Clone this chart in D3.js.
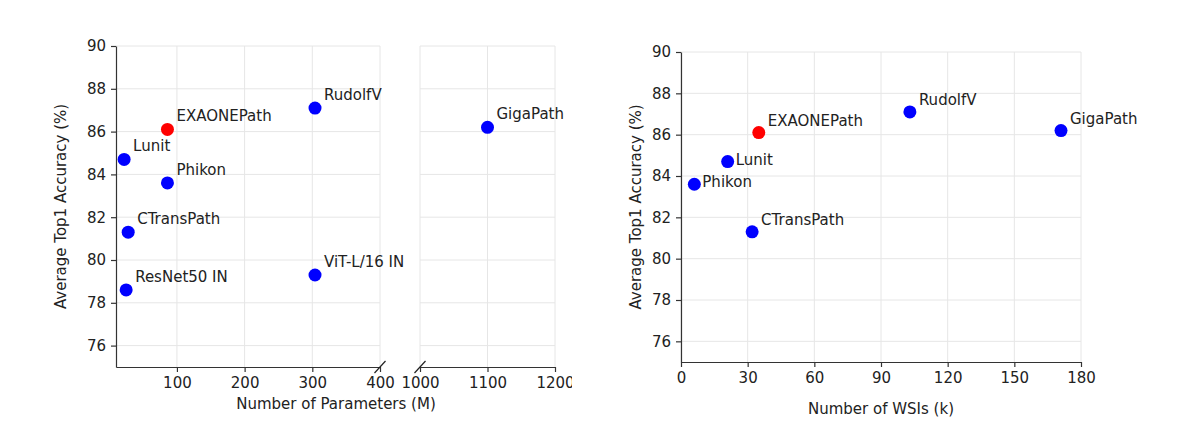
<!DOCTYPE html>
<html>
<head>
<meta charset="utf-8">
<script src="https://cdn.jsdelivr.net/npm/d3@7"></script>
<style>
    body { margin: 0; background: #fff; }
    svg { font-family: "DejaVu Sans", sans-serif; }
    .axis text { fill: #222; }
    .axis path, .axis line { stroke: #333; stroke-width: 1.2; }
    .grid line { stroke: #e6e6e6; stroke-width: 1; }
    .axis-title { font-size: 15px; fill: #222; }
    .pt-label { font-size: 15px; fill: #222; }
</style>
</head>
<body>
<div id="chart"></div>
<script>
// data
const models = ['ResNet50 IN', 'CTransPath', 'Lunit', 'Phikon', 'EXAONEPath', 'ViT-L/16 IN', 'RudolfV', 'GigaPath'];
const paramsM = [25, 28, 22, 86, 86, 304, 304, 1100];
const accuracy = [78.6, 81.3, 84.7, 83.6, 86.1, 79.3, 87.1, 86.2];
const wsisK = [null, 32, 21, 6, 35, null, 103, 171];

const yTicks = [76, 78, 80, 82, 84, 86, 88, 90];
const paramTicksLow = [100, 200, 300, 400];
const paramTicksHigh = [1000, 1100, 1200];
const wsiTicks = [0, 30, 60, 90, 120, 150, 180];

const highlight = 'EXAONEPath';

const points = models.map((m, i) => ({name: m, params: paramsM[i], acc: accuracy[i], wsi: wsisK[i]}));

const svg = d3.select('#chart').append('svg')
    .attr('width', 1200)
    .attr('height', 434);

const color = d => d.name === highlight ? '#ff0000' : '#0000ff';

// draw an axis and force the tick font (d3 sets its own 10px sans-serif)
function drawAxis(parent, axis, transform) {
    return parent.append('g')
        .attr('class', 'axis')
        .attr('transform', transform)
        .call(axis.tickSize(5).tickSizeOuter(0).tickFormat(d3.format('d')))
        .attr('font-size', 15)
        .attr('font-family', '"DejaVu Sans", sans-serif');
}

// ---------- left panel: broken x axis ----------
const left = svg.append('g');
svg.append('clipPath').attr('id', 'leftClip')
    .append('rect').attr('x', 0).attr('y', 0).attr('width', 572).attr('height', 434);
left.attr('clip-path', 'url(#leftClip)');

const yL = d3.scaleLinear().domain([75, 90]).range([367, 46]);
const xLo = d3.scaleLinear().domain([10, 400]).range([116, 380]);
const xHi = d3.scaleLinear().domain([1000, 1200]).range([420, 555]);

// grid
const gridL = left.append('g').attr('class', 'grid');
[xLo, xHi].forEach(x => {
    const ticks = x === xLo ? paramTicksLow : paramTicksHigh;
    gridL.selectAll(null).data(ticks).join('line')
        .attr('x1', d => x(d)).attr('x2', d => x(d))
        .attr('y1', yL.range()[0]).attr('y2', yL.range()[1]);
    gridL.selectAll(null).data(yTicks).join('line')
        .attr('x1', x.range()[0]).attr('x2', x.range()[1])
        .attr('y1', d => yL(d)).attr('y2', d => yL(d));
});

drawAxis(left, d3.axisLeft(yL).tickValues(yTicks).tickPadding(5), `translate(${xLo.range()[0]},0)`);
drawAxis(left, d3.axisBottom(xLo).tickValues(paramTicksLow).tickPadding(5), `translate(0,${yL.range()[0]})`);
drawAxis(left, d3.axisBottom(xHi).tickValues(paramTicksHigh).tickPadding(5), `translate(0,${yL.range()[0]})`);

// break marks
left.selectAll('.brk').data([xLo.range()[1], xHi.range()[0]]).join('line')
    .attr('class', 'brk')
    .attr('x1', d => d - 5.5).attr('y1', yL.range()[0] + 6)
    .attr('x2', d => d + 5.5).attr('y2', yL.range()[0] - 6)
    .attr('stroke', '#222').attr('stroke-width', 1.2);

const xParam = v => v >= 1000 ? xHi(v) : xLo(v);

left.selectAll('.dot').data(points).join('circle')
    .attr('class', 'dot')
    .attr('cx', d => xParam(d.params))
    .attr('cy', d => yL(d.acc))
    .attr('r', 6.5)
    .attr('fill', color);

left.selectAll('.pt-label').data(points).join('text')
    .attr('class', 'pt-label')
    .attr('x', d => xParam(d.params) + 9)
    .attr('y', d => yL(d.acc) - 8)
    .text(d => d.name);

left.append('text')
    .attr('class', 'axis-title')
    .attr('x', 336).attr('y', 409)
    .attr('text-anchor', 'middle')
    .text('Number of Parameters (M)');

left.append('text')
    .attr('class', 'axis-title')
    .attr('transform', `translate(66,${(yL.range()[0] + yL.range()[1]) / 2}) rotate(-90)`)
    .attr('text-anchor', 'middle')
    .text('Average Top1 Accuracy (%)');

// ---------- right panel: WSIs ----------
const right = svg.append('g');
const yR = d3.scaleLinear().domain([75, 90]).range([362, 52]);
const xR = d3.scaleLinear().domain([0, 180]).range([681, 1081]);

const gridR = right.append('g').attr('class', 'grid');
gridR.selectAll(null).data(wsiTicks).join('line')
    .attr('x1', d => xR(d)).attr('x2', d => xR(d))
    .attr('y1', yR.range()[0]).attr('y2', yR.range()[1]);
gridR.selectAll(null).data(yTicks).join('line')
    .attr('x1', xR.range()[0]).attr('x2', xR.range()[1])
    .attr('y1', d => yR(d)).attr('y2', d => yR(d));

drawAxis(right, d3.axisLeft(yR).tickValues(yTicks).tickPadding(5), `translate(${xR.range()[0]},0)`);
drawAxis(right, d3.axisBottom(xR).tickValues(wsiTicks).tickPadding(5), `translate(0,${yR.range()[0]})`);

const wsiPoints = points.filter(d => d.wsi !== null);
// labels that sit beside the dot instead of above it
const sideLabels = new Set(['Lunit', 'Phikon']);

right.selectAll('.dot').data(wsiPoints).join('circle')
    .attr('class', 'dot')
    .attr('cx', d => xR(d.wsi))
    .attr('cy', d => yR(d.acc))
    .attr('r', 6.5)
    .attr('fill', color);

right.selectAll('.pt-label').data(wsiPoints).join('text')
    .attr('class', 'pt-label')
    .attr('x', d => xR(d.wsi) + (sideLabels.has(d.name) ? 8 : 9))
    .attr('y', d => yR(d.acc) + (sideLabels.has(d.name) ? 3 : -7))
    .text(d => d.name);

right.append('text')
    .attr('class', 'axis-title')
    .attr('x', (xR.range()[0] + xR.range()[1]) / 2).attr('y', 414)
    .attr('text-anchor', 'middle')
    .text('Number of WSIs (k)');

right.append('text')
    .attr('class', 'axis-title')
    .attr('transform', `translate(641,${(yR.range()[0] + yR.range()[1]) / 2}) rotate(-90)`)
    .attr('text-anchor', 'middle')
    .text('Average Top1 Accuracy (%)');
</script>
</body>
</html>
